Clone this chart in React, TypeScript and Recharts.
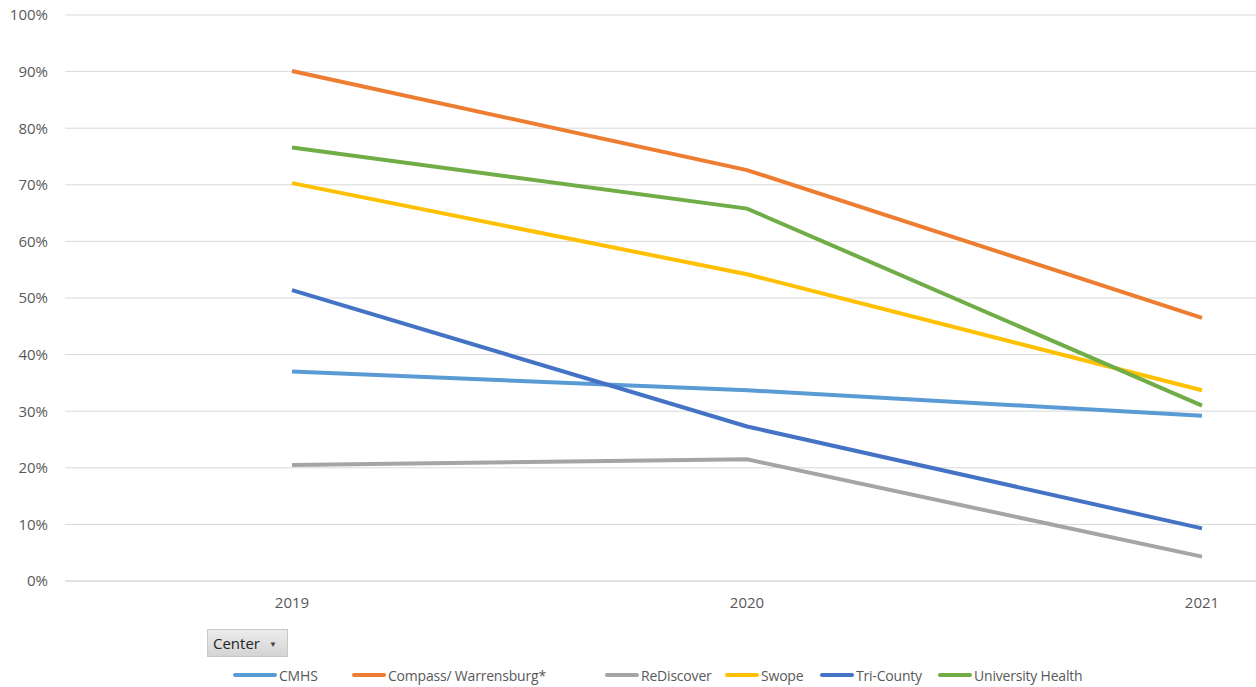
import React from "react";
import { LineChart, Line, XAxis, YAxis, CartesianGrid } from "recharts";

const years = ["2019", "2020", "2021"];
const cmhs = [0.37, 0.337, 0.292];
const compass = [0.901, 0.726, 0.465];
const rediscover = [0.205, 0.215, 0.043];
const swope = [0.703, 0.542, 0.337];
const triCounty = [0.514, 0.273, 0.093];
const universityHealth = [0.766, 0.658, 0.31];
const yTicks = [0, 0.1, 0.2, 0.3, 0.4, 0.5, 0.6, 0.7, 0.8, 0.9, 1];

const series = [
  { key: "cmhs", name: "CMHS", values: cmhs, color: "#5B9BD5" },
  { key: "compass", name: "Compass/ Warrensburg*", values: compass, color: "#ED7D31" },
  { key: "rediscover", name: "ReDiscover", values: rediscover, color: "#A5A5A5" },
  { key: "swope", name: "Swope", values: swope, color: "#FFC000" },
  { key: "tri", name: "Tri-County", values: triCounty, color: "#4472C4" },
  { key: "uh", name: "University Health", values: universityHealth, color: "#70AD47" },
];

// legend item left edges (layout only)
const legendLeft = [233, 352, 605, 725, 820, 938];

const data = years.map((year, i) => {
  const row: Record<string, string | number> = { year };
  series.forEach((s) => {
    row[s.key] = s.values[i];
  });
  return row;
});

const font = "'Open Sans', sans-serif";

const App: React.FC = () => (
  <div
    style={{
      position: "absolute",
      left: 0,
      top: 0,
      width: 1256,
      height: 687,
      overflow: "hidden",
      background: "#fff",
      fontFamily: font,
    }}
  >
    <LineChart
      width={1256}
      height={687}
      data={data}
      margin={{ top: 15, right: 0, left: 0, bottom: 76 }}
    >
      <CartesianGrid vertical={false} stroke="#d9d9d9" strokeWidth={1} />
      <XAxis
        dataKey="year"
        height={30}
        padding={{ left: 227, right: 54 }}
        tickLine={false}
        axisLine={{ stroke: "#d9d9d9" }}
        tickMargin={10}
        tick={{ fill: "#595959", fontSize: 15, fontFamily: font }}
      />
      <YAxis
        width={65}
        domain={[0, 1]}
        ticks={yTicks}
        tickLine={false}
        axisLine={false}
        tickMargin={11}
        tickFormatter={(v: number) => `${Math.round(v * 100)}%`}
        tick={{ fill: "#595959", fontSize: 15, fontFamily: font }}
      />
      {series.map((s) => (
        <Line
          key={s.key}
          dataKey={s.key}
          name={s.name}
          stroke={s.color}
          strokeWidth={4}
          dot={false}
          activeDot={false}
          isAnimationActive={false}
        />
      ))}
    </LineChart>
    <div
      style={{
        position: "absolute",
        left: 207,
        top: 629,
        width: 81,
        height: 28,
        boxSizing: "border-box",
        background: "linear-gradient(#ececec, #d4d4d4)",
        border: "1px solid #c8c8c8",
        display: "flex",
        alignItems: "center",
        paddingLeft: 5,
        fontSize: 15,
        color: "#262626",
      }}
    >
      Center
      <span style={{ fontSize: 8, marginLeft: 9, color: "#404040" }}>▼</span>
    </div>
    {series.map((s, i) => (
      <div
        key={s.key}
        style={{
          position: "absolute",
          left: legendLeft[i],
          top: 664,
          height: 22,
          display: "flex",
          alignItems: "center",
          fontSize: 14,
          letterSpacing: -0.2,
          color: "#595959",
          whiteSpace: "nowrap",
        }}
      >
        <span
          style={{
            display: "inline-block",
            width: i === 0 ? 44 : 34,
            height: 4,
            borderRadius: 2,
            background: s.color,
            marginRight: 2,
          }}
        />
        {s.name}
      </div>
    ))}
  </div>
);

export default App;
